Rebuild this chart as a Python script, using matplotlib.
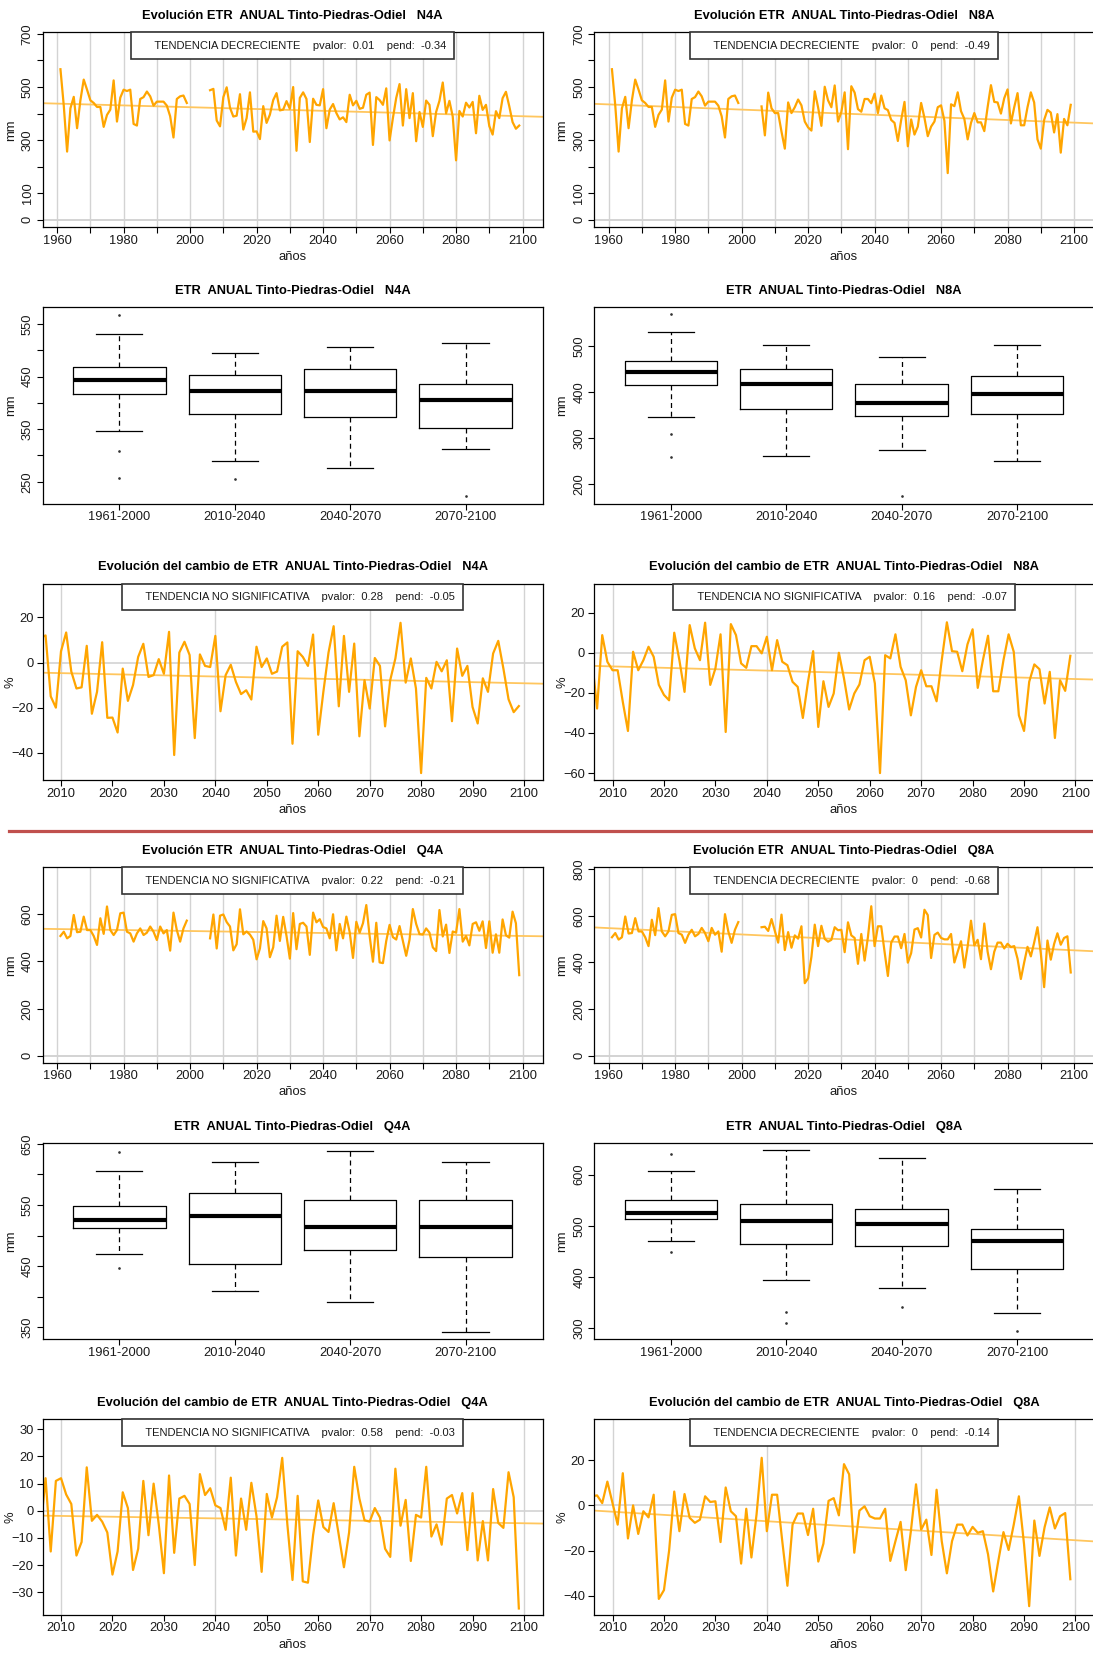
#%% Imports
import numpy as np
import matplotlib
matplotlib.use('Agg')
import matplotlib.pyplot as plt
from matplotlib.offsetbox import AnchoredText
from matplotlib.lines import Line2D

plt.rcParams['font.family'] = ['Liberation Sans', 'DejaVu Sans']

#%% Data
hist_years = np.arange(1961, 2000)
fut_years = np.arange(2006, 2100)

### Historical ETR (mm), shared by both scenarios of each group
etr_hist_n = [567, 430, 257, 420, 463, 345, 450, 528, 490, 450,
              440, 425, 425, 350, 395, 415, 525, 370, 460, 490,
              485, 490, 361, 355, 455, 462, 483, 465, 430, 445,
              445, 445, 430, 390, 310, 455, 465, 468, 440]
etr_hist_q = [508, 526, 498, 508, 597, 524, 526, 590, 533, 533,
              508, 470, 583, 517, 633, 533, 512, 533, 604, 607,
              526, 519, 484, 519, 540, 512, 522, 548, 526, 491,
              548, 519, 533, 446, 607, 533, 484, 540, 573]

### Projected ETR (mm), 2006-2099
etr_n4a = [488, 493, 374, 352, 462, 499, 422, 389, 392, 473,
           340, 383, 480, 332, 333, 304, 428, 365, 396, 451,
           477, 412, 415, 447, 418, 500, 260, 459, 480, 455,
           293, 456, 433, 431, 492, 345, 415, 436, 402, 378,
           386, 368, 471, 431, 448, 418, 422, 471, 479, 282,
           462, 451, 433, 495, 299, 383, 459, 511, 355, 492,
           383, 477, 296, 406, 350, 449, 433, 315, 406, 448,
           517, 401, 448, 389, 224, 410, 389, 441, 423, 444,
           326, 467, 414, 433, 353, 321, 409, 383, 458, 482,
           428, 368, 343, 355]
etr_n8a = [427, 318, 479, 420, 402, 402, 332, 268, 442, 402,
           424, 453, 431, 370, 348, 336, 484, 424, 354, 501,
           450, 424, 506, 370, 406, 480, 266, 503, 479, 417,
           407, 455, 455, 439, 475, 402, 468, 420, 413, 376,
           365, 297, 376, 444, 277, 378, 321, 351, 440, 384,
           315, 351, 370, 424, 431, 373, 176, 435, 428, 480,
           409, 380, 303, 365, 402, 367, 367, 334, 424, 507,
           444, 442, 400, 458, 491, 363, 424, 477, 356, 356,
           424, 480, 442, 303, 268, 376, 414, 404, 329, 398,
           253, 380, 356, 433]
etr_q4a = [498, 599, 455, 594, 599, 567, 548, 447, 473, 621,
           515, 527, 514, 492, 409, 455, 571, 540, 418, 460,
           594, 487, 589, 508, 412, 605, 452, 559, 564, 548,
           428, 607, 566, 579, 546, 540, 498, 600, 447, 559,
           498, 590, 524, 415, 568, 522, 562, 639, 508, 399,
           564, 396, 393, 487, 555, 503, 493, 550, 487, 424,
           492, 622, 559, 516, 514, 540, 522, 460, 444, 618,
           506, 556, 436, 527, 522, 622, 484, 508, 468, 559,
           566, 530, 570, 457, 570, 437, 515, 437, 578, 511,
           501, 611, 562, 342]
etr_q8a = [551, 553, 535, 586, 535, 485, 605, 453, 530, 463,
           516, 502, 555, 311, 332, 424, 562, 470, 557, 501,
           489, 497, 551, 538, 540, 444, 572, 516, 505, 394,
           522, 408, 509, 641, 470, 555, 555, 446, 342, 485,
           511, 511, 461, 522, 399, 440, 541, 547, 507, 626,
           603, 419, 518, 528, 505, 499, 499, 522, 400, 446,
           491, 378, 470, 579, 473, 497, 414, 567, 446, 371,
           446, 485, 485, 460, 480, 466, 470, 416, 329, 400,
           467, 426, 485, 551, 439, 294, 494, 412, 479, 525,
           476, 505, 512, 357]

### Change relative to 1961-2000 (%), 2006-2099
chg_n4a = [11, 12, -15, -20, 5, 13.3, -4, -11.5, -11, 7.4,
           -22.7, -13, 9, -24.5, -24.4, -31, -2.7, -17, -10, 2.5,
           8.3, -6.4, -5.6, 1.5, -5, 13.6, -41, 4.4, 9.2, 3.3,
           -33.5, 3.6, -1.5, -2, 11.8, -21.6, -5.6, -1, -8.6, -14,
           -12.3, -16.4, 7, -2, 1.8, -5, -4, 7, 8.9, -36,
           5, 2.5, -1.5, 12.4, -32, -13, 4.4, 16.1, -19.4, 11.8,
           -13, 8.4, -32.7, -7.8, -20.4, 2, -1.5, -28.3, -7.8, 1.8,
           17.6, -8.9, 1.8, -11.5, -49, -6.8, -11.5, 0.3, -3.9, 1,
           -26, 6.2, -5.9, -1.5, -19.7, -27, -7, -13, 4, 9.6,
           -2.7, -16.3, -22, -19.3]
chg_n8a = [-3, -27.8, 8.8, -4.5, -8.7, -8.7, -24.5, -39, 0.5, -8.7,
           -3.7, 3, -2, -16, -21, -23.7, 10, -3.7, -19.5, 13.8,
           2.2, -3.7, 15, -16, -7.8, 9.2, -39.5, 14.3, 8.8, -5.3,
           -7.5, 3.3, 3.3, -0.3, 8, -8.7, 6.3, -4.5, -6.2, -14.5,
           -17, -32.5, -14.5, 0.8, -37, -14.2, -27, -20.3, 0, -12.8,
           -28.3, -20.3, -15.8, -3.7, -2, -15.3, -60, -1.2, -2.8, 9.2,
           -7, -13.7, -31.2, -17, -8.7, -16.7, -16.7, -24.2, -3.7, 15.2,
           0.8, 0.5, -9.2, 4.2, 11.7, -17.5, -3.7, 8.5, -19.2, -19.2,
           -3.7, 9.2, 0.5, -31.2, -39, -14.5, -5.8, -8.2, -25.3, -9.5,
           -42.5, -13.7, -19, -1.5]
chg_q4a = [-7, 12, -15, 11, 12, 6, 2.5, -16.5, -11.5, 16,
           -3.7, -1.5, -4, -8, -23.5, -15, 6.8, 1, -21.8, -14,
           11, -9, 10, -5, -23, 13, -15.5, 4.5, 5.5, 2.5,
           -20, 13.5, 5.8, 8.3, 2, 1, -7, 12.2, -16.5, 4.5,
           -7, 10.3, -2, -22.5, 6.2, -2.5, 5, 19.5, -5, -25.5,
           5.5, -26, -26.5, -9, 3.8, -6, -7.8, 2.8, -9, -20.8,
           -8, 16.2, 4.5, -3.5, -4, 1, -2.5, -14, -17, 15.5,
           -5.5, 4, -18.5, -1.5, -2.5, 16.2, -9.5, -5, -12.5, 4.5,
           5.8, -1, 6.5, -14.5, 6.5, -18.3, -3.8, -18.3, 8, -4.5,
           -6.3, 14.2, 5, -36]
chg_q8a = [4, 4.4, 1, 10.5, 1, -8.5, 14.2, -14.6, 0, -12.6,
           -2.6, -5.3, 4.7, -41.3, -37.4, -20, 6.1, -11.4, 5, -5.5,
           -7.7, -6.3, 4, 1.5, 1.8, -16.2, 7.9, -2.6, -4.8, -25.7,
           -1.5, -23, -4, 21, -11.4, 4.7, 4.7, -15.8, -35.5, -8.5,
           -3.6, -3.6, -13.1, -1.5, -24.8, -16.9, 2, 3.2, -4.4, 18.2,
           13.7, -20.9, -2.3, -0.4, -4.8, -5.8, -5.8, -1.5, -24.5, -15.8,
           -7.3, -28.6, -11.4, 9.3, -10.7, -6.3, -21.9, 6.9, -15.8, -30,
           -15.8, -8.5, -8.5, -13.3, -9.5, -12.1, -11.4, -21.6, -38, -24.5,
           -11.8, -19.7, -8.5, 4, -17.2, -44.5, -6.7, -22.3, -9.6, -0.9,
           -10.2, -4.8, -3.4, -32.6]

### Trend tests (label, pvalor, pend, trend value at year 2000)
ts_trend = {
    'N4A': ('TENDENCIA DECRECIENTE', '0.01', -0.34, 424),
    'N8A': ('TENDENCIA DECRECIENTE', '0', -0.49, 415),
    'Q4A': ('TENDENCIA NO SIGNIFICATIVA', '0.22', -0.21, 529),
    'Q8A': ('TENDENCIA DECRECIENTE', '0', -0.68, 520),
}
chg_trend = {
    'N4A': ('TENDENCIA NO SIGNIFICATIVA', '0.28', -0.05, -4.2),
    'N8A': ('TENDENCIA NO SIGNIFICATIVA', '0.16', -0.07, -6.1),
    'Q4A': ('TENDENCIA NO SIGNIFICATIVA', '0.58', -0.03, -1.6),
    'Q8A': ('TENDENCIA DECRECIENTE', '0', -0.14, -1.4),
}

### Boxplot statistics per period (mm)
periods = ['1961-2000', '2010-2040', '2040-2070', '2070-2100']
box_med = {'N4A': [443, 422, 422, 406], 'N8A': [444, 418, 376, 396],
           'Q4A': [525, 532, 514, 514], 'Q8A': [525, 509, 504, 471]}
box_q1 = {'N4A': [417, 378, 373, 352], 'N8A': [416, 364, 348, 352],
          'Q4A': [512, 454, 476, 465], 'Q8A': [513, 464, 460, 416]}
box_q3 = {'N4A': [468, 453, 464, 436], 'N8A': [468, 450, 419, 435],
          'Q4A': [549, 570, 559, 559], 'Q8A': [550, 542, 533, 493]}
box_lo = {'N4A': [346, 290, 277, 312], 'N8A': [346, 262, 275, 250],
          'Q4A': [470, 409, 392, 343], 'Q8A': [470, 394, 379, 330]}
box_hi = {'N4A': [531, 495, 506, 513], 'N8A': [532, 502, 476, 502],
          'Q4A': [605, 620, 639, 621], 'Q8A': [606, 647, 633, 571]}
box_out = {'N4A': [[568, 309, 258], [256], [], [223]],
           'N8A': [[570, 309, 259], [], [175], []],
           'Q4A': [[637, 447], [], [], []],
           'Q8A': [[640, 448], [332, 311], [341], [295]]}

### Axis settings
ts_ylim = {'N4A': (-28, 706), 'N8A': (-28, 706), 'Q4A': (-29, 799), 'Q8A': (-30, 808)}
ts_yticks = {'N4A': [0, 100, 200, 300, 400, 500, 600, 700],
             'N8A': [0, 100, 200, 300, 400, 500, 600, 700],
             'Q4A': [0, 200, 400, 600], 'Q8A': [0, 200, 400, 600, 800]}
ts_ylabels = {'N4A': ['0', '100', '', '300', '', '500', '', '700'],
              'N8A': ['0', '100', '', '300', '', '500', '', '700'],
              'Q4A': ['0', '200', '400', '600'], 'Q8A': ['0', '200', '400', '600', '800']}
box_ylim = {'N4A': (207.6, 581.8), 'N8A': (157, 585), 'Q4A': (330.4, 651), 'Q8A': (278.5, 661)}
box_yticks = {'N4A': [250, 300, 350, 400, 450, 500, 550], 'N8A': [200, 300, 400, 500],
              'Q4A': [350, 400, 450, 500, 550, 600, 650], 'Q8A': [300, 400, 500, 600]}
box_ylabels = {'N4A': ['250', '', '350', '', '450', '', '550'], 'N8A': ['200', '300', '400', '500'],
               'Q4A': ['350', '', '450', '', '550', '', '650'], 'Q8A': ['300', '400', '500', '600']}
chg_ylim = {'N4A': (-52.2, 34.8), 'N8A': (-63.6, 34.3), 'Q4A': (-38.4, 33.7), 'Q8A': (-48.4, 38)}
chg_yticks = {'N4A': [-40, -20, 0, 20], 'N8A': [-60, -40, -20, 0, 20],
              'Q4A': [-30, -20, -10, 0, 10, 20, 30], 'Q8A': [-40, -20, 0, 20]}

#%% Layout (pixels)
W, H = 1093, 1659
fig = plt.figure(figsize=(W / 100, H / 100), dpi=100)
ORANGE = '#FFA500'
TREND = '#FFC65E'
GRID = '#D3D3D3'
TXT = '#1a1a1a'
PX = 0.72  # points per pixel


def add_ax(left, top, bottom, width=500):
    return fig.add_axes([left / W, 1 - bottom / H, width / W, (bottom - top) / H])


def base_style(ax, title, xlab=True):
    for sp in ax.spines.values():
        sp.set_linewidth(0.9)
        sp.set_color('black')
    ax.tick_params(direction='out', length=4.3, width=0.8, labelsize=9.3, labelcolor=TXT)
    ax.tick_params(axis='x', pad=1.0)
    ax.tick_params(axis='y', pad=2.0)
    ax.annotate(title, xy=(0.5, 1), xycoords='axes fraction', xytext=(0, 16.6 * PX),
                textcoords='offset points', ha='center', va='center',
                fontsize=9.3, fontweight='bold', color='black')
    if xlab:
        ax.annotate('años', xy=(0.5, 0), xycoords='axes fraction', xytext=(0, -29.5 * PX),
                    textcoords='offset points', ha='center', va='center', fontsize=9.4, color=TXT)


def add_legend(ax, info):
    label, pval, pend, _ = info
    txt = f'     {label}    pvalor:  {pval}    pend:  {pend:.2f}'
    at = AnchoredText(txt, loc='upper center', pad=0.74, borderpad=0, frameon=True,
                      prop=dict(size=8.0, color=TXT))
    at.patch.set_edgecolor('#333333')
    at.patch.set_linewidth(1.2)
    at.patch.set_boxstyle('square,pad=0')
    at.set_zorder(5)
    ax.add_artist(at)


def ylabel(ax, s):
    ax.set_ylabel(s, fontsize=9.4, color=TXT)
    ax.yaxis.set_label_coords(-31.5 / 500, 0.5)
    ax.yaxis.label.set_va('center')


def ts_panel(ax, model, fut):
    hist = etr_hist_n if model[0] == 'N' else etr_hist_q
    for yr in range(1960, 2101, 10):
        ax.axvline(yr, color=GRID, lw=1.0, zorder=0)
    ax.axhline(0, color=GRID, lw=1.4, zorder=0)
    info = ts_trend[model]
    ax.axline((2000, info[3]), slope=info[2], color=TREND, lw=1.3, zorder=1)
    ax.plot(hist_years, hist, color=ORANGE, lw=1.6, zorder=2)
    ax.plot(fut_years, fut, color=ORANGE, lw=1.6, zorder=2)
    ax.set_xlim(1955.6, 2106)
    ax.set_ylim(*ts_ylim[model])
    ax.set_xticks(range(1960, 2101, 10),
                  [str(y) if y % 20 == 0 else '' for y in range(1960, 2101, 10)])
    ax.set_yticks(ts_yticks[model], ts_ylabels[model], rotation=90, va='center')
    base_style(ax, f'Evolución ETR  ANUAL Tinto-Piedras-Odiel   {model}')
    add_legend(ax, info)
    ylabel(ax, 'mm')


def box_panel(ax, model):
    stats = []
    for i in range(4):
        stats.append(dict(med=box_med[model][i], q1=box_q1[model][i], q3=box_q3[model][i],
                          whislo=box_lo[model][i], whishi=box_hi[model][i],
                          fliers=box_out[model][i]))
    ax.bxp(stats, positions=[1, 2, 3, 4], widths=0.8, capwidths=0.4,
           boxprops=dict(color='black', lw=0.9),
           medianprops=dict(color='black', lw=3.0, solid_capstyle='butt'),
           whiskerprops=dict(color='black', lw=0.9, linestyle=(0, (4, 3))),
           capprops=dict(color='black', lw=0.9),
           flierprops=dict(marker='o', markersize=0.9, markerfacecolor='#333333',
                           markeredgecolor='#333333', linestyle='none'),
           manage_ticks=False)
    ax.set_xlim(0.334, 4.667)
    ax.set_ylim(*box_ylim[model])
    ax.set_xticks([1, 2, 3, 4], periods)
    ax.set_yticks(box_yticks[model], box_ylabels[model], rotation=90, va='center')
    base_style(ax, f'ETR  ANUAL Tinto-Piedras-Odiel   {model}', xlab=False)
    ylabel(ax, 'mm')


def chg_panel(ax, model, chg):
    for yr in [2010, 2040, 2070, 2100]:
        ax.axvline(yr, color=GRID, lw=1.0, zorder=0)
    ax.axhline(0, color=GRID, lw=1.2, zorder=0)
    info = chg_trend[model]
    ax.axline((2000, info[3]), slope=info[2], color=TREND, lw=1.3, zorder=1)
    ax.plot(fut_years, chg, color=ORANGE, lw=1.6, zorder=2)
    ax.set_xlim(2006.4, 2103.6)
    ax.set_ylim(*chg_ylim[model])
    ax.set_xticks(range(2010, 2101, 10))
    ax.set_yticks(chg_yticks[model])
    base_style(ax, f'Evolución del cambio de ETR  ANUAL Tinto-Piedras-Odiel   {model}')
    add_legend(ax, info)
    ylabel(ax, '%')


#%% Panels
cols = [42.5, 594]
rows_ts = [(32.3, 227.3), (867.3, 1062.7)]
rows_box = [(307.3, 504), (1143.3, 1339.3)]
rows_chg = [(584, 780.3), (1419.3, 1615)]
series = {'N4A': (etr_n4a, chg_n4a), 'N8A': (etr_n8a, chg_n8a),
          'Q4A': (etr_q4a, chg_q4a), 'Q8A': (etr_q8a, chg_q8a)}
layout = [('N4A', 0, 0), ('N8A', 0, 1), ('Q4A', 1, 0), ('Q8A', 1, 1)]
for model, r, c in layout:
    fut, chg = series[model]
    ts_panel(add_ax(cols[c], *rows_ts[r]), model, fut)
    box_panel(add_ax(cols[c], *rows_box[r]), model)
    chg_panel(add_ax(cols[c], *rows_chg[r]), model, chg)

### Red separator between groups
fig.add_artist(Line2D([8.5 / W, 1.0], [1 - 830.5 / H] * 2, color='#C0504D', lw=2.3))

fig.savefig('out.png', dpi=100, facecolor='white')
